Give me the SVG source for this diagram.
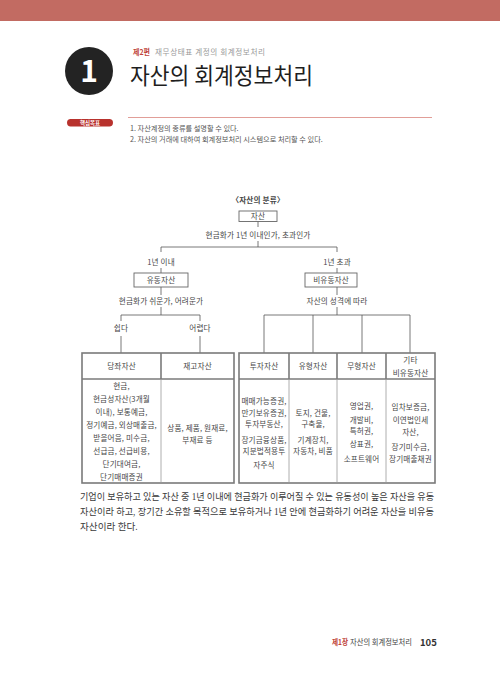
<svg xmlns="http://www.w3.org/2000/svg" width="500" height="684" viewBox="0 0 500 684">
<style>
.k{font-family:"Noto Sans CJK KR","Noto Sans",sans-serif;}
.t{font-family:"Noto Sans CJK KR",sans-serif;font-size:7.6px;fill:#474747;text-anchor:middle;letter-spacing:0.15px;}
.c{fill:none;stroke:#555;stroke-width:0.8;}
.bx{fill:#fff;stroke:#666;stroke-width:0.9;}
.tb{fill:#fff;stroke:#7a7a7a;stroke-width:1.6;}
.th{fill:none;stroke:#7a7a7a;stroke-width:1.6;}
.tl{fill:none;stroke:#999;stroke-width:0.8;}
.p{font-family:"Liberation Serif","Noto Sans CJK KR",serif;font-size:9.6px;fill:#3a3a3a;}
</style>
<rect width="500" height="684" fill="#fff"/>
<rect x="0" y="0" width="500" height="21" fill="#c26b62"/>

<g id="chapter-badge">
<circle cx="89" cy="71" r="24" fill="#232323"/>
<text x="89" y="82" class="k" font-size="30" font-weight="bold" fill="#fff" text-anchor="middle">1</text>
</g>
<g id="title">
<text x="133" y="55" class="k" font-size="8" font-weight="bold" fill="#c0453c" textLength="17" lengthAdjust="spacingAndGlyphs">제2편</text>
<text x="155" y="55" class="k" font-size="7.6" fill="#999" textLength="110" lengthAdjust="spacing">재무상태표 계정의 회계정보처리</text>
<text x="130" y="84" class="k" font-size="23" fill="#1e1e1e" textLength="183" lengthAdjust="spacingAndGlyphs">자산의 회계정보처리</text>
</g>
<g id="goals">
<rect x="67" y="119" width="46" height="7.5" rx="3.7" fill="#b8322d"/>
<text x="90" y="125" class="k" font-size="5.5" font-weight="bold" fill="#fff" text-anchor="middle">핵심목표</text>
<line x1="128" y1="117.5" x2="432" y2="117.5" stroke="#d9857d" stroke-width="0.8"/>
<text x="130" y="131" class="k" font-size="7.2" fill="#555">1. 자산계정의 종류를 설명할 수 있다.</text>
<text x="130" y="142" class="k" font-size="7.2" fill="#555">2. 자산의 거래에 대하여 회계정보처리 시스템으로 처리할 수 있다.</text>
</g>

<g id="connectors">
<path class="c" d="M258 221V227M258 241V247M161 247H337M161 247V252M337 247V252"/>
<path class="c" d="M161 268V273M161 287V295M161 307V315M121 315H200M121 315V321M121 336V353M200 315V321M200 336V353"/>
<path class="c" d="M337 268V273M337 287V295M337 307V315M264 315H410M264 315V353M313 315V353M362 315V353M410 315V353"/>
</g>

<g id="chart-title"><text x="258" y="203" class="t" font-weight="bold" font-size="8">〈자산의 분류〉</text></g>
<g id="node-asset">
<rect class="bx" x="239" y="211" width="38" height="10.5"/>
<text x="258" y="219" class="t">자산</text>
</g>
<g id="label-q1"><text x="258" y="238" class="t">현금화가 1년 이내인가, 초과인가</text></g>
<g id="label-within"><text x="161" y="265" class="t">1년 이내</text></g>
<g id="label-over"><text x="337" y="265" class="t">1년 초과</text></g>
<g id="node-current">
<rect class="bx" x="134" y="273" width="54" height="14"/>
<text x="161" y="283" class="t">유동자산</text>
</g>
<g id="node-noncurrent">
<rect class="bx" x="305" y="273" width="52" height="14"/>
<text x="331" y="283" class="t">비유동자산</text>
</g>
<g id="label-q2"><text x="161" y="304" class="t">현금화가 쉬운가, 어려운가</text></g>
<g id="label-q3"><text x="337" y="304" class="t">자산의 성격에 따라</text></g>
<g id="label-easy"><text x="121" y="331" class="t">쉽다</text></g>
<g id="label-hard"><text x="200" y="331" class="t">어렵다</text></g>

<g id="table-current">
<rect class="tb" x="82" y="353" width="152" height="130"/>
<line class="th" x1="82" y1="379" x2="234" y2="379"/>
<line class="th" x1="161" y1="353" x2="161" y2="379"/>
<line class="tl" x1="161" y1="379" x2="161" y2="483"/>
</g>
<g id="table-noncurrent">
<rect class="tb" x="239" y="353" width="196" height="130"/>
<line class="th" x1="239" y1="379" x2="435" y2="379"/>
<line class="th" x1="289" y1="353" x2="289" y2="379"/>
<line class="th" x1="337" y1="353" x2="337" y2="379"/>
<line class="th" x1="386" y1="353" x2="386" y2="379"/>
<line class="tl" x1="289" y1="379" x2="289" y2="483"/>
<line class="tl" x1="337" y1="379" x2="337" y2="483"/>
<line class="tl" x1="386" y1="379" x2="386" y2="483"/>
</g>

<g id="cell-quick">
<text x="121.5" y="369" class="t">당좌자산</text>
<text x="121.5" y="388.5" class="t">현금,</text>
<text x="121.5" y="401.5" class="t">현금성자산(3개월</text>
<text x="121.5" y="414.5" class="t">이내), 보통예금,</text>
<text x="121.5" y="427.5" class="t">정기예금, 외상매출금,</text>
<text x="121.5" y="440.5" class="t">받을어음, 미수금,</text>
<text x="121.5" y="453.5" class="t">선급금, 선급비용,</text>
<text x="121.5" y="466.5" class="t">단기대여금,</text>
<text x="121.5" y="479.5" class="t">단기매매증권</text>
</g>
<g id="cell-inventory">
<text x="197.5" y="369" class="t">재고자산</text>
<text x="197.5" y="430.5" class="t">상품, 제품, 원재료,</text>
<text x="197.5" y="442.5" class="t">부재료 등</text>
</g>
<g id="cell-investment">
<text x="264" y="369" class="t">투자자산</text>
<text x="264" y="404" class="t" font-size="7.2">매매가능증권,</text>
<text x="264" y="415.5" class="t" font-size="7.2">만기보유증권,</text>
<text x="264" y="427" class="t" font-size="7.2">투자부동산,</text>
<text x="264" y="442.5" class="t" font-size="7.2">장기금융상품,</text>
<text x="264" y="454" class="t" font-size="7.2">지분법적용투</text>
<text x="264" y="467.5" class="t" font-size="7.2">자주식</text>
</g>
<g id="cell-tangible">
<text x="313" y="369" class="t">유형자산</text>
<text x="313" y="415.5" class="t">토지, 건물,</text>
<text x="313" y="427" class="t">구축물,</text>
<text x="313" y="442.5" class="t">기계장치,</text>
<text x="313" y="454" class="t">자동차, 비품</text>
</g>
<g id="cell-intangible">
<text x="361.5" y="369" class="t">무형자산</text>
<text x="361.5" y="408.5" class="t">영업권,</text>
<text x="361.5" y="423" class="t">개발비,</text>
<text x="361.5" y="434" class="t">특허권,</text>
<text x="361.5" y="446.5" class="t">상표권,</text>
<text x="361.5" y="461.5" class="t">소프트웨어</text>
</g>
<g id="cell-other">
<text x="410.5" y="362.5" class="t">기타</text>
<text x="410.5" y="375.5" class="t">비유동자산</text>
<text x="410.5" y="410" class="t">임차보증금,</text>
<text x="410.5" y="422.5" class="t">이연법인세</text>
<text x="410.5" y="435" class="t">자산,</text>
<text x="410.5" y="449.5" class="t">장기미수금,</text>
<text x="410.5" y="461.5" class="t">장기매출채권</text>
</g>

<g id="paragraph">
<text x="80" y="500" class="p" textLength="354" lengthAdjust="spacingAndGlyphs">기업이 보유하고 있는 자산 중 1년 이내에 현금화가 이루어질 수 있는 유동성이 높은 자산을 유동</text>
<text x="80" y="515" class="p" textLength="354" lengthAdjust="spacingAndGlyphs">자산이라 하고, 장기간 소유할 목적으로 보유하거나 1년 안에 현금화하기 어려운 자산을 비유동</text>
<text x="80" y="530" class="p">자산이라 한다.</text>
</g>

<g id="footer">
<text x="332" y="645" class="k" font-size="8" font-weight="bold" fill="#c0453c" textLength="16" lengthAdjust="spacingAndGlyphs">제1장</text>
<text x="350" y="645" class="k" font-size="7.8" fill="#444" textLength="62" lengthAdjust="spacingAndGlyphs">자산의 회계정보처리</text>
<text x="420" y="645.5" class="k" font-size="9.5" font-weight="bold" fill="#333">105</text>
</g>
</svg>
